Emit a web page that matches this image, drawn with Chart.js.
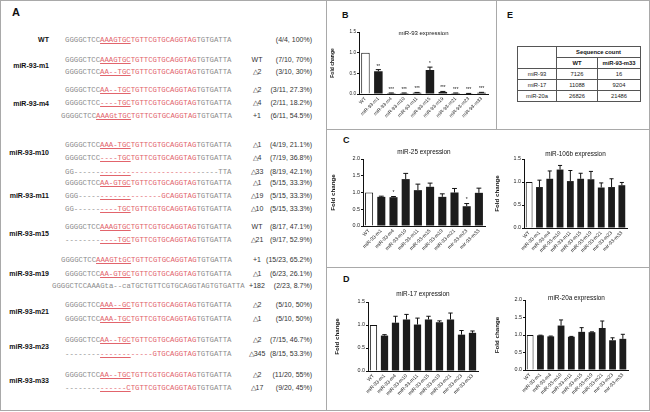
<!DOCTYPE html>
<html>
<head>
<meta charset="utf-8">
<script src="https://cdn.jsdelivr.net/npm/chart.js@4.4.1/dist/chart.umd.min.js"></script>
<style>
    body { margin: 0; background: #fff; font-family: "Liberation Sans", Arial, sans-serif; }
    #fig { position: relative; width: 650px; height: 412px; overflow: hidden; }
    .line { position: absolute; background: #a9a9a9; }
    .plabel { position: absolute; font-weight: bold; color: #111; }
    .box { position: absolute; }
    .seq { position: absolute; height: 10px; line-height: 10px; white-space: pre;
           font-family: "Liberation Mono", "Courier New", monospace; font-size: 7.3px; color: #8c8c8c; }
    .red { color: #e2646c; }
    .seed { color: #e2646c; text-decoration: underline; }
    .name { position: absolute; left: 0; width: 49px; text-align: right; font-size: 7px; font-weight: bold;
            color: #111; line-height: 10px; white-space: nowrap; }
    .mut { position: absolute; left: 242px; width: 30px; text-align: center; font-size: 7px; color: #333; line-height: 10px; }
    .pct { position: absolute; left: 252px; width: 60px; text-align: right; font-size: 7px; color: #333; line-height: 10px; }
    #tbl { position: absolute; left: 517px; top: 46px; border-collapse: collapse; border: 1.5px solid #111;
           font-size: 5.8px; color: #222; table-layout: fixed; }
    #tbl td { border: 0.6px solid #555; height: 10px; padding: 0; text-align: center; line-height: 10px; }
    #tbl .h { font-weight: bold; color: #111; }
</style>
</head>
<body>
<div id="fig">
    <div class="line" style="left:0;top:0;width:650px;height:1px"></div>
    <div class="line" style="left:0;top:410px;width:650px;height:1px"></div>
    <div class="line" style="left:0;top:0;width:1px;height:411px"></div>
    <div class="line" style="left:649px;top:0;width:1px;height:411px"></div>
    <div class="line" style="left:326px;top:0;width:1px;height:411px"></div>
    <div class="line" style="left:496px;top:0;width:1px;height:129px"></div>
    <div class="line" style="left:326px;top:129px;width:324px;height:1px"></div>
    <div class="line" style="left:326px;top:267px;width:324px;height:1px"></div>

    <div class="plabel" style="left:12px;top:6px;font-size:11px">A</div>
    <div class="plabel" style="left:342px;top:10px;font-size:9px">B</div>
    <div class="plabel" style="left:343px;top:135px;font-size:9px">C</div>
    <div class="plabel" style="left:343px;top:274px;font-size:9px">D</div>
    <div class="plabel" style="left:507px;top:10px;font-size:9px">E</div>

    <div id="panelA"></div>
    <table id="tbl"></table>

    <div class="box"><canvas id="chartB"></canvas></div>
    <div class="box"><canvas id="chartC1"></canvas></div>
    <div class="box"><canvas id="chartC2"></canvas></div>
    <div class="box"><canvas id="chartD1"></canvas></div>
    <div class="box"><canvas id="chartD2"></canvas></div>
</div>
<script>
// ---- panel A: sequences ----
const rowNames = [
    ['WT', 40], ['miR-93-m1', 66], ['miR-93-m4', 104], ['miR-93-m10', 153], ['miR-93-m11', 196],
    ['miR-93-m15', 234], ['miR-93-m19', 274], ['miR-93-m21', 312], ['miR-93-m23', 347], ['miR-93-m33', 381]
];
// y, x, grey prefix, seed (underlined), red, grey suffix, mutation, fraction
const seqRows = [
    [40, 65, 'GGGGCTCC', 'AAAGTGC', 'TGTTCGTGCAGGTAG', 'TGTGATTA', '', '(4/4, 100%)'],
    [60, 65, 'GGGGCTCC', 'AAAGTGC', 'TGTTCGTGCAGGTAG', 'TGTGATTA', 'WT', '(7/10, 70%)'],
    [72, 65, 'GGGGCTCC', 'AA--TGC', 'TGTTCGTGCAGGTAG', 'TGTGATTA', '△2', '(3/10, 30%)'],
    [90, 65, 'GGGGCTCC', 'AA--TGC', 'TGTTCGTGCAGGTAG', 'TGTGATTA', '△2', '(3/11, 27.3%)'],
    [103, 65, 'GGGGCTCC', '----TGC', 'TGTTCGTGCAGGTAG', 'TGTGATTA', '△4', '(2/11, 18.2%)'],
    [116, 61, 'GGGGCTCC', 'AAAGtTGC', 'TGTTCGTGCAGGTAG', 'TGTGATTA', '+1', '(6/11, 54.5%)'],
    [145, 65, 'GGGGCTCC', 'AAA-TGC', 'TGTTCGTGCAGGTAG', 'TGTGATTA', '△1', '(4/19, 21.1%)'],
    [158, 65, 'GGGGCTCC', '----TGC', 'TGTTCGTGCAGGTAG', 'TGTGATTA', '△4', '(7/19, 36.8%)'],
    [172, 65, 'GG------', '-------', '---------------', '-----TTA', '△33', '(8/19, 42.1%)'],
    [183, 65, 'GGGGCTCC', 'AA-GTGC', 'TGTTCGTGCAGGTAG', 'TGTGATTA', '△1', '(5/15, 33.3%)'],
    [196, 65, 'GGG-----', '-------', '-------GCAGGTAG', 'TGTGATTA', '△19', '(5/15, 33.3%)'],
    [209, 65, 'GG------', '----TGC', 'TGTTCGTGCAGGTAG', 'TGTGATTA', '△10', '(5/15, 33.3%)'],
    [227, 65, 'GGGGCTCC', 'AAAGTGC', 'TGTTCGTGCAGGTAG', 'TGTGATTA', 'WT', '(8/17, 47.1%)'],
    [240, 65, '--------', '----TGC', 'TGTTCGTGCAGGTAG', 'TGTGATTA', '△21', '(9/17, 52.9%)'],
    [260, 61, 'GGGGCTCC', 'AAAGTtGC', 'TGTTCGTGCAGGTAG', 'TGTGATTA', '+1', '(15/23, 65.2%)'],
    [274, 65, 'GGGGCTCC', 'AA-GTGC', 'TGTTCGTGCAGGTAG', 'TGTGATTA', '△1', '(6/23, 26.1%)'],
    [286, 52, 'GGGGCTCCAAAGta--caTGCTGTTCGTGCAGGTAGTGTGATTA', '', '', '', '+182', '(2/23, 8.7%)'],
    [305, 65, 'GGGGCTCC', 'AAA--GC', 'TGTTCGTGCAGGTAG', 'TGTGATTA', '△2', '(5/10, 50%)'],
    [319, 65, 'GGGGCTCC', 'AAA-TGC', 'TGTTCGTGCAGGTAG', 'TGTGATTA', '△1', '(5/10, 50%)'],
    [340, 65, 'GGGGCTCC', 'AA--TGC', 'TGTTCGTGCAGGTAG', 'TGTGATTA', '△2', '(7/15, 46.7%)'],
    [354, 65, '--------', '-------', '-----GTGCAGGTAG', 'TGTGATTA', '△345', '(8/15, 53.3%)'],
    [375, 65, 'GGGGCTCC', 'AA--TGC', 'TGTTCGTGCAGGTAG', 'TGTGATTA', '△2', '(11/20, 55%)'],
    [388, 65, '--------', '------C', 'TGTTCGTGCAGGTAG', 'TGTGATTA', '△17', '(9/20, 45%)']
];

// ---- panel E: table ----
const tableRows = ['miR-93', 'miR-17', 'miR-20a'];
const wtCounts = [7126, 11088, 26826];
const m33Counts = [16, 9204, 21486];

// ---- panels B-D: bar charts ----
const categoriesB = ['WT', 'miR-93-m1', 'miR-93-m4', 'miR-93-m10', 'miR-93-m11', 'miR-93-m15',
    'miR-93-m19', 'miR-93-m21', 'miR-93-m23', 'miR-93-m33'];
const categoriesCD = ['WT', 'miR-93-m1', 'miR-93-m4', 'miR-93-m10', 'miR-93-m11', 'miR-93-m15',
    'miR-93-m19', 'miR-93-m21', 'mir-93-m23', 'mir-93-m33'];

const mir93Values = [1.0, 0.55, 0.02, 0.02, 0.03, 0.58, 0.05, 0.02, 0.01, 0.03];
const mir93Errors = [0, 0.04, 0.005, 0.005, 0.008, 0.07, 0.012, 0.005, 0.004, 0.01];
const mir93Stars = ['', '**', '***', '***', '***', '*', '***', '***', '***', '***'];

const mir25Values = [1.0, 0.87, 0.86, 1.40, 1.07, 1.17, 0.87, 1.00, 0.59, 0.99];
const mir25Errors = [0, 0.02, 0.02, 0.17, 0.18, 0.11, 0.09, 0.12, 0.08, 0.14];
const mir25Stars = ['', '', '*', '', '', '', '', '', '*', ''];

const mir106bValues = [1.0, 0.89, 1.07, 1.27, 1.02, 1.07, 1.06, 0.88, 0.89, 0.93];
const mir106bErrors = [0, 0.15, 0.17, 0.09, 0.23, 0.12, 0.17, 0.10, 0.18, 0.06];

const mir17Values = [1.0, 0.77, 1.05, 1.12, 1.01, 1.12, 1.06, 1.12, 0.79, 0.83];
const mir17Errors = [0, 0.02, 0.14, 0.11, 0.14, 0.07, 0.03, 0.14, 0.09, 0.04];

const mir20aValues = [1.0, 0.99, 0.96, 1.27, 0.95, 1.09, 1.08, 1.20, 0.85, 0.89];
const mir20aErrors = [0, 0.005, 0.01, 0.16, 0.01, 0.12, 0.01, 0.20, 0.07, 0.13];

const ticks15 = [0, 0.5, 1.0, 1.5];
const ticks20 = [0, 0.5, 1.0, 1.5, 2.0];

const FONT = '"Liberation Sans", Arial, sans-serif';

function buildPanelA() {
    const host = document.getElementById('panelA');
    let html = '';
    rowNames.forEach(([name, y]) => {
        html += `<div class="name" style="top:${y - 5}px">${name}</div>`;
    });
    seqRows.forEach(([y, x, pre, seed, mid, suf, mut, pct]) => {
        html += `<div class="seq" style="left:${x}px;top:${y - 5}px">${pre}` +
            (seed ? `<span class="seed">${seed}</span>` : '') +
            (mid ? `<span class="red">${mid}</span>` : '') + suf + '</div>';
        if (mut) html += `<div class="mut" style="top:${y - 5}px">${mut}</div>`;
        html += `<div class="pct" style="top:${y - 5}px">${pct}</div>`;
    });
    host.innerHTML = html;
}

function buildTable() {
    const t = document.getElementById('tbl');
    let html = '<colgroup><col style="width:39px"><col style="width:41px"><col style="width:43px"></colgroup>';
    html += '<tr><td rowspan="2"></td><td colspan="2" class="h">Sequence count</td></tr>';
    html += '<tr><td class="h">WT</td><td class="h">miR-93-m33</td></tr>';
    tableRows.forEach((r, i) => {
        html += `<tr><td>${r}</td><td>${wtCounts[i]}</td><td>${m33Counts[i]}</td></tr>`;
    });
    t.innerHTML = html;
}

// error bars, significance stars and the in-plot title
const barExtras = {
    id: 'barExtras',
    afterDatasetsDraw(chart, args, opts) {
        const { ctx, chartArea } = chart;
        const yScale = chart.scales.y;
        const values = chart.data.datasets[0].data;
        const meta = chart.getDatasetMeta(0);
        ctx.save();
        ctx.strokeStyle = '#111';
        ctx.fillStyle = '#111';
        ctx.lineWidth = 1;
        meta.data.forEach((bar, i) => {
            const e = opts.errors[i] || 0;
            const top = yScale.getPixelForValue(values[i] + e);
            if (e > 0) {
                const capHalf = bar.width * 0.3;
                ctx.beginPath();
                ctx.moveTo(bar.x, bar.y);
                ctx.lineTo(bar.x, top);
                ctx.moveTo(bar.x - capHalf, top);
                ctx.lineTo(bar.x + capHalf, top);
                ctx.stroke();
            }
            const s = opts.stars && opts.stars[i];
            if (s) {
                ctx.font = `${opts.starSize}px ${FONT}`;
                ctx.textAlign = 'center';
                ctx.textBaseline = 'bottom';
                ctx.fillText(s, bar.x, top - 1);
            }
        });
        ctx.font = `${opts.titleSize}px ${FONT}`;
        ctx.textAlign = 'center';
        ctx.textBaseline = 'middle';
        ctx.fillText(opts.title, (chartArea.left + chartArea.right) / 2, chartArea.top + opts.titleDy);
        ctx.restore();
    }
};

function makeChart(id, labels, values, errors, stars, yTicks, title, geo) {
    const el = document.getElementById(id);
    Object.assign(el.parentNode.style, {
        left: geo.left + 'px', top: geo.top + 'px', width: geo.width + 'px', height: geo.height + 'px'
    });
    return new Chart(el, {
        type: 'bar',
        data: {
            labels,
            datasets: [{
                data: values,
                backgroundColor: values.map((v, i) => i === 0 ? '#ffffff' : '#1c1c1c'),
                borderColor: '#111',
                borderWidth: values.map((v, i) => i === 0 ? 1 : 0),
                barPercentage: 0.66,
                categoryPercentage: 1
            }]
        },
        options: {
            responsive: true,
            maintainAspectRatio: false,
            animation: false,
            layout: { padding: { top: geo.padTop, right: geo.padRight, left: 0, bottom: 0 } },
            plugins: {
                legend: { display: false },
                tooltip: { enabled: false },
                barExtras: { errors, stars, title, titleDy: geo.titleDy, titleSize: geo.titleSize, starSize: geo.starSize }
            },
            scales: {
                x: {
                    grid: { display: true, drawOnChartArea: false, drawTicks: false },
                    border: { color: '#111', width: 1 },
                    ticks: { autoSkip: false, maxRotation: 45, minRotation: 45, padding: 2, color: '#222',
                             font: { family: FONT, size: geo.xFont } },
                    afterFit(s) { s.height = geo.xAxisH; }
                },
                y: {
                    min: 0,
                    max: yTicks[yTicks.length - 1],
                    afterBuildTicks(s) { s.ticks = yTicks.map(v => ({ value: v })); },
                    grid: { display: true, drawOnChartArea: false, drawTicks: true, tickLength: 2, color: '#111' },
                    border: { color: '#111', width: 1 },
                    ticks: { padding: 1, color: '#222', font: { family: FONT, size: geo.yFont },
                             callback: v => v.toFixed(1) },
                    title: { display: true, text: 'Fold change', color: '#111',
                             font: { family: FONT, size: geo.axisTitle, weight: 'bold' }, padding: { top: 0, bottom: 2 } },
                    afterFit(s) { s.width = geo.yAxisW; }
                }
            }
        },
        plugins: [barExtras]
    });
}

buildPanelA();
buildTable();

makeChart('chartB', categoriesB, mir93Values, mir93Errors, mir93Stars, ticks15, 'miR-93 expression',
    { left: 330, top: 26, width: 162, height: 102, padTop: 6, padRight: 4, yAxisW: 29, xAxisH: 34,
      titleDy: 1, titleSize: 6, starSize: 4.5, xFont: 4.8, yFont: 4.6, axisTitle: 5 });
makeChart('chartC1', categoriesCD, mir25Values, mir25Errors, mir25Stars, ticks20, 'miR-25 expression',
    { left: 330, top: 146, width: 160, height: 118, padTop: 13, padRight: 5, yAxisW: 33, xAxisH: 38,
      titleDy: -7, titleSize: 6.4, starSize: 5, xFont: 5, yFont: 5.4, axisTitle: 6.2 });
makeChart('chartC2', categoriesCD, mir106bValues, mir106bErrors, null, ticks15, 'miR-106b expression',
    { left: 494, top: 146, width: 140, height: 118, padTop: 13, padRight: 7, yAxisW: 30, xAxisH: 36,
      titleDy: -5, titleSize: 6.4, starSize: 5, xFont: 5, yFont: 5.4, axisTitle: 6.2 });
makeChart('chartD1', categoriesCD, mir17Values, mir17Errors, null, ticks15, 'miR-17 expression',
    { left: 334, top: 286, width: 150, height: 122, padTop: 16, padRight: 6, yAxisW: 34, xAxisH: 37,
      titleDy: -8, titleSize: 6.4, starSize: 5, xFont: 5, yFont: 5.4, axisTitle: 6.2 });
makeChart('chartD2', categoriesCD, mir20aValues, mir20aErrors, null, ticks20, 'miR-20a expression',
    { left: 494, top: 286, width: 140, height: 122, padTop: 14, padRight: 6, yAxisW: 31, xAxisH: 38,
      titleDy: -2, titleSize: 6.4, starSize: 5, xFont: 5, yFont: 5.4, axisTitle: 6.2 });
</script>
</body>
</html>
